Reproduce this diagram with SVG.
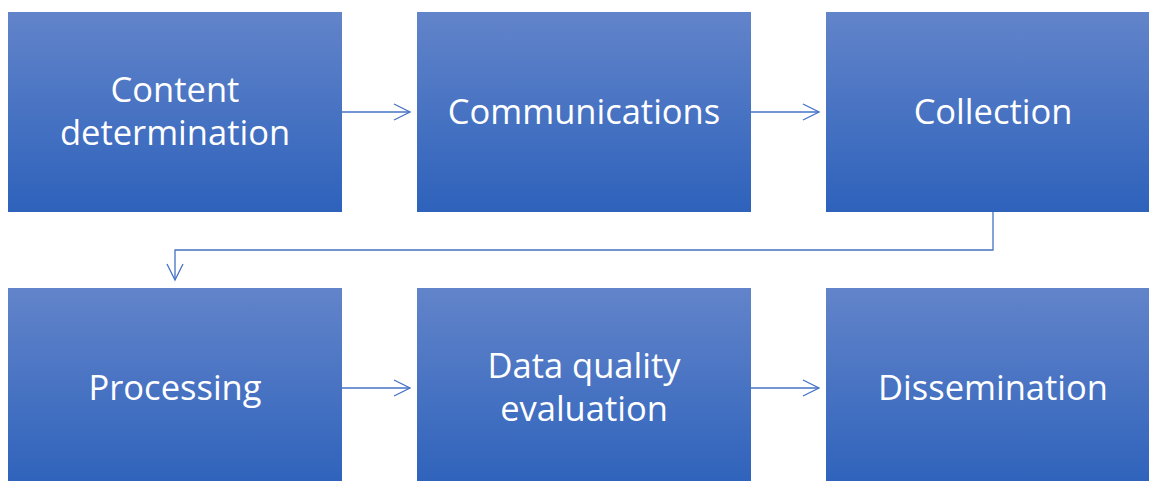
<svg xmlns="http://www.w3.org/2000/svg" width="1149" height="481" viewBox="0 0 1149 481">
<defs>
<linearGradient id="g" x1="0" y1="0" x2="0" y2="1">
<stop offset="0" stop-color="#6284ca"/>
<stop offset="1" stop-color="#2e62bb"/>
</linearGradient>
<marker id="ah" markerWidth="20" markerHeight="20" refX="17" refY="9" orient="auto" markerUnits="userSpaceOnUse">
<path d="M1,1 L17,9 L1,17" fill="none" stroke="#4472c4" stroke-width="1.3"/>
</marker>
<style>
.box{fill:url(#g);}
.t{font-family:"Open Sans","Liberation Sans",sans-serif;font-size:34.5px;fill:#ffffff;text-anchor:middle;}
.c{fill:none;stroke:#4472c4;stroke-width:1.3;marker-end:url(#ah);}
</style>
</defs>
<rect width="1149" height="481" fill="#ffffff"/>
<g id="n1"><rect class="box" x="8" y="12" width="334" height="200"/><text class="t" x="175" y="102">Content</text><text class="t" x="175" y="145">determination</text></g>
<g id="n2"><rect class="box" x="417" y="12" width="334" height="200"/><text class="t" x="584" y="124">Communications</text></g>
<g id="n3"><rect class="box" x="826" y="12" width="334" height="200"/><text class="t" x="993" y="124">Collection</text></g>
<g id="n4"><rect class="box" x="8" y="288" width="334" height="200"/><text class="t" x="175" y="400">Processing</text></g>
<g id="n5"><rect class="box" x="417" y="288" width="334" height="200"/><text class="t" x="584" y="378">Data quality</text><text class="t" x="584" y="421">evaluation</text></g>
<g id="n6"><rect class="box" x="826" y="288" width="334" height="200"/><text class="t" x="993" y="400">Dissemination</text></g>
<g id="connectors">
<path class="c" d="M342,112 H410"/>
<path class="c" d="M751,112 H819"/>
<path class="c" d="M993,212 V250 H175 V280"/>
<path class="c" d="M342,388 H410"/>
<path class="c" d="M751,388 H819"/>
</g>
</svg>
